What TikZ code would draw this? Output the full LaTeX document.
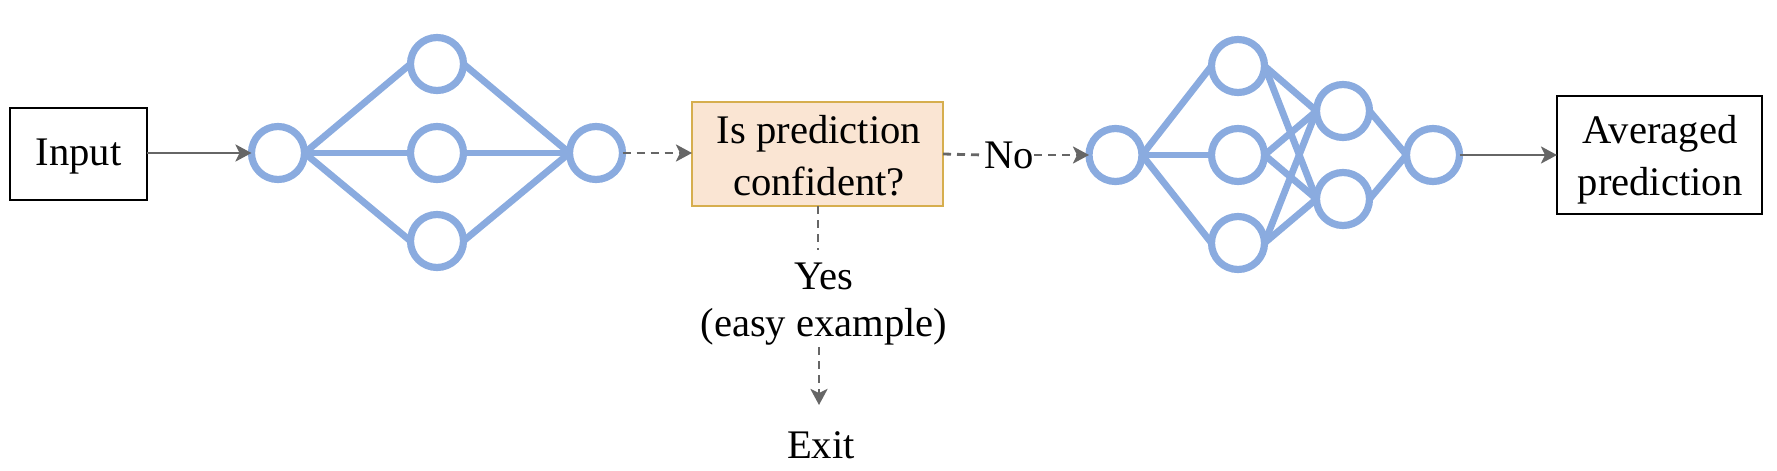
\documentclass[tikz,border=0pt]{standalone}
\usepackage{fontspec}
\setmainfont{Liberation Serif}
\usetikzlibrary{arrows.meta}
\definecolor{netblue}{HTML}{8AABDF}
\definecolor{arrowgray}{HTML}{666666}
\definecolor{qfill}{HTML}{FAE5D3}
\definecolor{qline}{HTML}{D6AE4E}
\tikzset{
  x=0.5pt,y=-0.5pt,
  neuron/.style={circle,draw=netblue,line width=3.6pt,minimum size=26.5pt,inner sep=0pt,outer sep=0pt},
  synapse/.style={draw=netblue,line width=3.4pt},
  txt/.style={font=\fontsize{20.3}{26}\selectfont,align=center,inner sep=0pt,text=black},
  plainbox/.style={draw=black,line width=1pt,outer sep=0pt,inner sep=0pt},
  flow/.style={draw=arrowgray,line width=1.4pt,-{Stealth[length=8pt,width=8.5pt,inset=2pt]}},
  dashflow/.style={flow,dash pattern=on 4pt off 3pt},
  dashseg/.style={draw=arrowgray,line width=1.4pt,dash pattern=on 4pt off 3pt},
}
\begin{document}
\begin{tikzpicture}
\useasboundingbox (0,0) rectangle (1777,471);
% boxes
\node[plainbox,minimum width=68.5pt,minimum height=46pt] (input) at (78.5,154) {};
\node[txt] (inputt) at (78.5,157) {Input};
\node[draw=qline,fill=qfill,line width=1.2pt,inner sep=0pt,outer sep=0pt,minimum width=125.5pt,minimum height=52pt] (q) at (817.5,154) {};
\node[txt] (qt) at (819,156) {Is prediction\\confident?};
\node[plainbox,minimum width=102.5pt,minimum height=59pt] (avg) at (1659.5,155) {};
\node[txt] (avgt) at (1660,160) {Averaged\\prediction};
\node[txt] (no) at (1009,155) {No};
\node[txt,font=\fontsize{20.3}{23.5}\selectfont] (yes) at (824,304) {Yes\\(easy example)};
\node[txt] (exit) at (821,445) {Exit};
% first network
\node[neuron] (a1) at (278,153) {};
\node[neuron] (b1) at (437,64) {};
\node[neuron] (b2) at (437,153) {};
\node[neuron] (b3) at (437,241) {};
\node[neuron] (c1) at (596,153) {};
\foreach \m in {b1,b2,b3}{
  \draw[synapse] (a1.east) -- (\m.west);
  \draw[synapse] (\m.east) -- (c1.west);
}
% second network
\node[neuron] (d1) at (1115.5,155) {};
\node[neuron] (e1) at (1238,66) {};
\node[neuron] (e2) at (1238,155) {};
\node[neuron] (e3) at (1238,243) {};
\node[neuron] (f1) at (1343,111) {};
\node[neuron] (f2) at (1343,199) {};
\node[neuron] (g1) at (1433,155) {};
\foreach \m in {e1,e2,e3}{
  \draw[synapse] (d1.east) -- (\m.west);
  \draw[synapse] (\m.east) -- (f1.west);
  \draw[synapse] (\m.east) -- (f2.west);
}
\draw[synapse] (f1.east) -- (g1.west);
\draw[synapse] (f2.east) -- (g1.west);
% flow
\draw[flow] (a1.west -| input.east) -- (a1.west);
\draw[dashflow] (c1.east) -- (c1.east -| q.west);
\draw[dashseg] (q.east) -- (no.west);
\draw[dashflow] (no.east) -- (d1.west);
\draw[flow] (g1.east) -- (g1.east -| avg.west);
\coordinate (yt) at (818,250);
\coordinate (yb) at (819,347);
\coordinate (xt) at (819,405);
\draw[dashseg] (q.south -| yt) -- (yt);
\draw[dashflow] (yb) -- (xt);
\end{tikzpicture}
\end{document}
